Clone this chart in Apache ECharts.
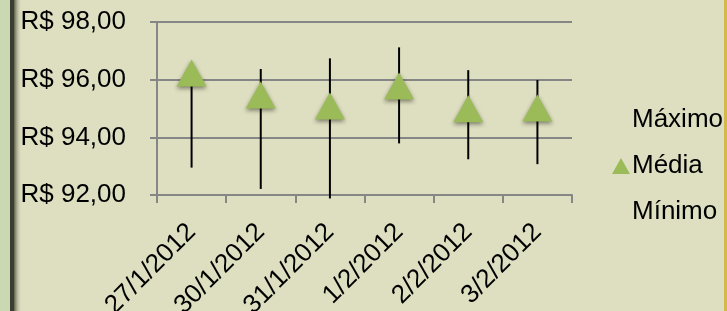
<!DOCTYPE html>
<html>
<head>
<meta charset="utf-8">
<script src="https://cdn.jsdelivr.net/npm/echarts@6/dist/echarts.min.js"></script>
<style>
  html, body { margin: 0; padding: 0; background: #dedfc0; }
  #chart { width: 727px; height: 311px; }
</style>
</head>
<body>
<div id="chart"></div>
<script>
const dates = ['27/1/2012', '30/1/2012', '31/1/2012', '1/2/2012', '2/2/2012', '3/2/2012']
const maximo = [96.3, 96.37, 96.74, 97.12, 96.33, 95.99]
const media = [96.23, 95.47, 95.09, 95.78, 94.99, 95.02]
const minimo = [92.95, 92.21, 91.88, 93.79, 93.24, 93.07]

const FONT = '"Liberation Sans", Arial, sans-serif'
const GRAY = '#868686'
const GREEN = '#9bbb59'

const chart = echarts.init(document.getElementById('chart'), null, { renderer: 'canvas' })

chart.setOption({
  backgroundColor: '#dedfc0',
  animation: false,
  textStyle: { fontFamily: FONT },
  graphic: [
    // moldura à esquerda e à direita
    { type: 'rect', shape: { x: 0, y: 0, width: 10, height: 311 }, style: { fill: '#cbd9b3' }, z: 100 },
    { type: 'rect', shape: { x: 10, y: 0, width: 4, height: 311 }, style: { fill: '#3a3d2f' }, z: 100 },
    {
      type: 'rect', shape: { x: 14, y: 0, width: 8, height: 311 }, z: 100,
      style: {
        fill: new echarts.graphic.LinearGradient(0, 0, 1, 0, [
          { offset: 0, color: 'rgba(60,62,45,0.8)' },
          { offset: 1, color: 'rgba(222,223,192,0)' },
        ]),
      },
    },
    { type: 'rect', shape: { x: 724, y: 0, width: 3, height: 311 }, style: { fill: '#d4b84a' }, z: 100 },
  ],
  grid: { left: 157, right: 155, top: 22, bottom: 116, containLabel: false, outerBoundsMode: 'none' },
  legend: {
    orient: 'vertical',
    left: 607,
    top: 102,
    itemWidth: 18,
    itemHeight: 16,
    itemGap: 20,
    textStyle: { fontFamily: FONT, fontSize: 26, color: '#000', padding: [0, 0, 0, -3] },
    data: [
      { name: 'Máximo', icon: 'rect', itemStyle: { opacity: 0 } },
      { name: 'Média', icon: 'triangle', itemStyle: { color: GREEN } },
      { name: 'Mínimo', icon: 'rect', itemStyle: { opacity: 0 } },
    ],
  },
  xAxis: {
    type: 'category',
    data: dates,
    boundaryGap: true,
    axisLine: { lineStyle: { color: GRAY, width: 2 } },
    axisTick: { show: true, length: 8, lineStyle: { color: GRAY, width: 2 } },
    axisLabel: { rotate: 45, margin: 33, fontSize: 26, color: '#000', fontFamily: FONT, interval: 0 },
  },
  yAxis: {
    type: 'value',
    min: 92,
    max: 98,
    interval: 2,
    axisLine: { show: true, lineStyle: { color: GRAY, width: 2 } },
    axisTick: { show: true, length: 7, lineStyle: { color: GRAY, width: 2 } },
    splitLine: { lineStyle: { color: GRAY, width: 2 } },
    axisLabel: {
      margin: 31,
      fontSize: 26,
      color: '#000',
      fontFamily: FONT,
      formatter: v => 'R$ ' + v.toFixed(2).replace('.', ','),
    },
  },
  series: [
    {
      name: 'Máximo',
      type: 'custom',
      clip: false,
      z: 3,
      data: dates.map((d, i) => [i, maximo[i], minimo[i]]),
      renderItem(params, api) {
        const top = api.coord([api.value(0), api.value(1)])
        const bottom = api.coord([api.value(0), api.value(2)])
        return {
          type: 'line',
          shape: { x1: top[0], y1: top[1], x2: bottom[0], y2: bottom[1] },
          style: { stroke: '#000', lineWidth: 2 },
        }
      },
    },
    {
      name: 'Média',
      type: 'scatter',
      z: 4,
      symbol: 'triangle',
      symbolSize: [30, 27],
      data: media,
      itemStyle: {
        color: GREEN,
        opacity: 1,
        shadowColor: 'rgba(0,0,0,0.45)',
        shadowBlur: 4,
        shadowOffsetY: 2,
      },
    },
    {
      name: 'Mínimo',
      type: 'scatter',
      symbol: 'none',
      symbolSize: 0,
      data: minimo,
      silent: true,
    },
  ],
})
</script>
</body>
</html>
